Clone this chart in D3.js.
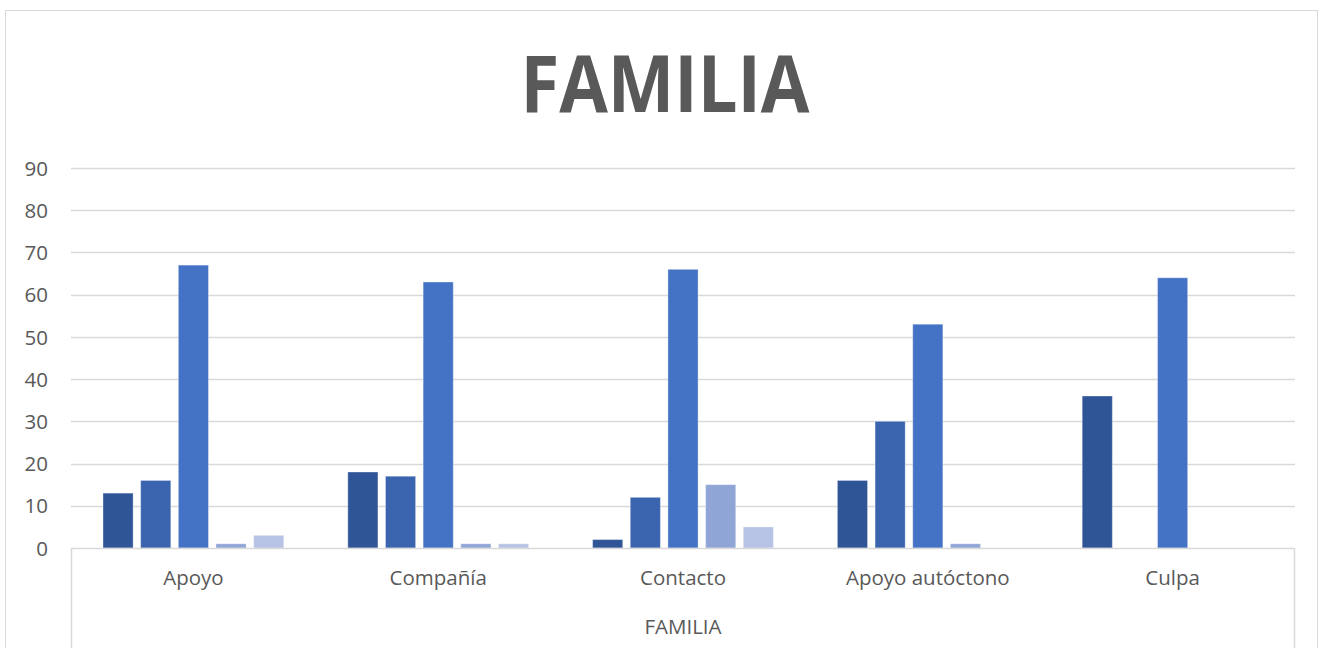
<!DOCTYPE html>
<html>
<head>
<meta charset="utf-8">
<script src="https://cdn.jsdelivr.net/npm/d3@7"></script>
<style>
  html, body { margin: 0; padding: 0; background: #fff; }
  svg { display: block; }
</style>
</head>
<body>
<svg id="chart" width="1328" height="648"></svg>
<script>
// Categories, series and tick values of the FAMILIA bar chart
const categories = ["Apoyo", "Compañía", "Contacto", "Apoyo autóctono", "Culpa"];
const series1 = [13, 18, 2, 16, 36];
const series2 = [16, 17, 12, 30, 0];
const series3 = [67, 63, 66, 53, 64];
const series4 = [1, 1, 15, 1, 0];
const series5 = [3, 1, 5, 0, 0];
const yTicks = [0, 10, 20, 30, 40, 50, 60, 70, 80, 90];
const seriesColors = ["#2F5597", "#3A64AD", "#4472C4", "#8FA5D6", "#B7C3E4"];
const chartTitle = "FAMILIA";
const axisTitle = "FAMILIA";

const allSeries = [series1, series2, series3, series4, series5];

const svg = d3.select("#chart");
const font = "'Open Sans', 'Noto Sans', sans-serif";
const labelSize = 20.5;

// chart frame
svg.append("rect")
  .attr("x", 5.5).attr("y", 10.5)
  .attr("width", 1312).attr("height", 660)
  .attr("fill", "#fff").attr("stroke", "#D9D9D9").attr("stroke-width", 1);

const plot = { left: 71, right: 1295, top: 168, bottom: 548 };

const y = d3.scaleLinear().domain([0, 90]).range([plot.bottom, plot.top]);
const x0 = d3.scaleBand().domain(categories).range([plot.left, plot.right]).paddingInner(0).paddingOuter(0);
const x1 = d3.scaleBand().domain(d3.range(allSeries.length))
  .range([32, x0.bandwidth() - 32]).paddingInner(0.2);

// gridlines
svg.append("g")
  .selectAll("line")
  .data(yTicks.filter(d => d > 0))
  .join("line")
  .attr("x1", plot.left).attr("x2", plot.right)
  .attr("y1", d => Math.round(y(d)) + 0.5).attr("y2", d => Math.round(y(d)) + 0.5)
  .attr("stroke", "#D9D9D9").attr("stroke-width", 1.5);

// y axis labels
const yAxis = d3.axisLeft(y).tickValues(yTicks).tickSize(0).tickPadding(0);
const gy = svg.append("g").attr("transform", `translate(${48},0)`).call(yAxis);
gy.select(".domain").remove();
gy.selectAll("text")
  .attr("font-family", font).attr("font-size", labelSize).attr("fill", "#595959")
  .attr("dy", "0.35em");

// bars
const groups = svg.append("g")
  .selectAll("g")
  .data(categories)
  .join("g")
  .attr("transform", d => `translate(${x0(d)},0)`);

groups.selectAll("rect")
  .data((c, ci) => allSeries.map((s, si) => ({ si, v: s[ci] })).filter(d => d.v > 0))
  .join("rect")
  .attr("x", d => x1(d.si))
  .attr("width", x1.bandwidth())
  .attr("y", d => y(d.v))
  .attr("height", d => y(0) - y(d.v))
  .attr("fill", d => seriesColors[d.si])
  .attr("stroke", "#fff").attr("stroke-opacity", 0.35).attr("stroke-width", 1);

// category axis box
const axisG = svg.append("g").attr("stroke", "#D9D9D9").attr("stroke-width", 1.5);
axisG.append("line").attr("x1", plot.left).attr("x2", plot.right)
  .attr("y1", plot.bottom + 0.5).attr("y2", plot.bottom + 0.5);
axisG.append("line").attr("x1", plot.left + 0.5).attr("x2", plot.left + 0.5)
  .attr("y1", plot.bottom).attr("y2", 648);
axisG.append("line").attr("x1", plot.right - 0.5).attr("x2", plot.right - 0.5)
  .attr("y1", plot.bottom).attr("y2", 648);

// category labels
const xAxis = d3.axisBottom(x0).tickSize(0).tickPadding(0);
const gx = svg.append("g").attr("transform", `translate(0,${578})`).call(xAxis);
gx.select(".domain").remove();
gx.selectAll("text")
  .attr("font-family", font).attr("font-size", labelSize).attr("fill", "#595959")
  .attr("dy", "0.35em");

// outer category level
svg.append("text")
  .attr("x", (plot.left + plot.right) / 2).attr("y", 627)
  .attr("dy", "0.35em").attr("text-anchor", "middle")
  .attr("font-family", font).attr("font-size", labelSize).attr("fill", "#595959")
  .text(axisTitle);

// title
svg.append("text")
  .attr("x", 665).attr("y", 112)
  .attr("text-anchor", "middle")
  .attr("font-family", font).attr("font-weight", "bold").attr("font-size", 78)
  .attr("textLength", 289).attr("lengthAdjust", "spacingAndGlyphs")
  .attr("fill", "#595959")
  .text(chartTitle);
</script>
</body>
</html>
